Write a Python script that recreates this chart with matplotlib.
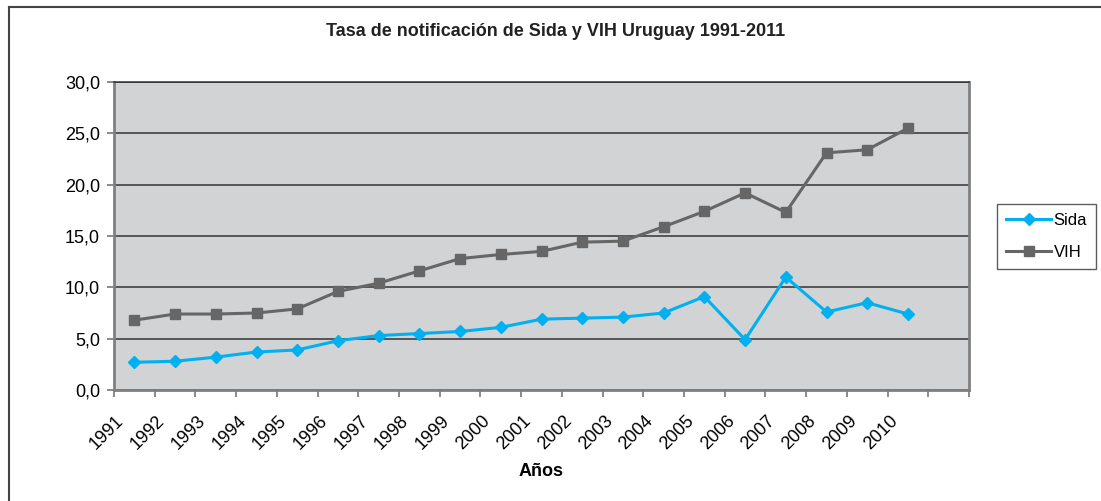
import numpy as np
import matplotlib
matplotlib.use("Agg")
import matplotlib.pyplot as plt
import matplotlib.transforms as mtransforms
from matplotlib.lines import Line2D

plt.rcParams['font.family'] = ['Liberation Sans', 'DejaVu Sans']

# Datos
anios = ['1991', '1992', '1993', '1994', '1995', '1996', '1997', '1998', '1999', '2000',
         '2001', '2002', '2003', '2004', '2005', '2006', '2007', '2008', '2009', '2010']
sida = [2.7, 2.8, 3.2, 3.7, 3.9, 4.8, 5.3, 5.5, 5.7, 6.1,
        6.9, 7.0, 7.1, 7.5, 9.1, 4.9, 11.0, 7.6, 8.5, 7.4]
vih = [6.8, 7.4, 7.4, 7.5, 7.9, 9.6, 10.4, 11.6, 12.8, 13.2,
       13.5, 14.4, 14.5, 15.9, 17.4, 19.2, 17.3, 23.1, 23.4, 25.5]
n_cat = 21  # el eje deja un hueco vacio al final (2011)


def main():
    fig = plt.figure(figsize=(11.01, 5.01), dpi=100)
    ax = fig.add_axes([114 / 1101, 1 - 390 / 501, 855 / 1101, 308 / 501])
    ax.set_facecolor('#D2D3D5')

    x = np.arange(len(anios))
    ax.plot(x, sida, color='#00B0F0', lw=2.2, marker='D', ms=6.3, label='Sida', zorder=3)
    ax.plot(x, vih, color='#666666', lw=2.2, marker='s', ms=6.8, label='VIH', zorder=3)

    ax.set_xlim(-0.5, n_cat - 0.5)
    ax.set_ylim(0, 30)
    ax.set_yticks(np.arange(0, 31, 5))
    ax.set_yticklabels([f'{v:.1f}'.replace('.', ',') for v in np.arange(0, 31, 5)], fontsize=13)
    ax.yaxis.grid(True, color='#333333', lw=1.1)
    ax.set_axisbelow(True)

    # marcas entre categorias, etiquetas bajo cada categoria
    ax.set_xticks(np.arange(n_cat + 1) - 0.5)
    ax.set_xticklabels([])
    ax.set_xticks(x, minor=True)
    ax.set_xticklabels(anios, minor=True, rotation=45, ha='right', va='top', fontsize=13)
    ax.tick_params(axis='x', which='minor', length=0, pad=16)
    ax.tick_params(axis='x', which='major', length=5, width=1.2, color='#777777')
    ax.tick_params(axis='y', length=5, width=1.2, color='#777777', pad=5)
    offset = mtransforms.ScaledTranslation(-7 / 100, 0, fig.dpi_scale_trans)
    for lbl in ax.get_xticklabels(minor=True):
        lbl.set_transform(lbl.get_transform() + offset)

    for side in ['left', 'bottom', 'right']:
        ax.spines[side].set_color('#808080')
        ax.spines[side].set_linewidth(2)
    ax.spines['top'].set_color('#333333')
    ax.spines['top'].set_linewidth(1.1)

    ax.set_xlabel('Años', fontsize=13, fontweight='bold', labelpad=7)
    fig.text(556 / 1101, 1 - 31 / 501, 'Tasa de notificación de Sida y VIH Uruguay 1991-2011',
             ha='center', va='center', fontsize=13, fontweight='bold', color='#222222')

    leg = fig.legend(loc='upper left', bbox_to_anchor=(997 / 1101, 1 - 204 / 501),
                     fontsize=12, frameon=True, fancybox=False, handlelength=2.7,
                     handletextpad=0.15, labelspacing=1.0, borderpad=0.55, borderaxespad=0)
    leg.get_frame().set_edgecolor('#333333')
    leg.get_frame().set_linewidth(1)

    # borde del area del grafico
    fig.add_artist(Line2D([9 / 1101, 1], [1 - 7 / 501, 1 - 7 / 501], color='#444444', lw=1.5,
                          transform=fig.transFigure))
    fig.add_artist(Line2D([9 / 1101, 9 / 1101], [0, 1 - 7 / 501], color='#444444', lw=1.5,
                          transform=fig.transFigure))

    fig.savefig('out.png', dpi=100)


if __name__ == "__main__":
    main()
